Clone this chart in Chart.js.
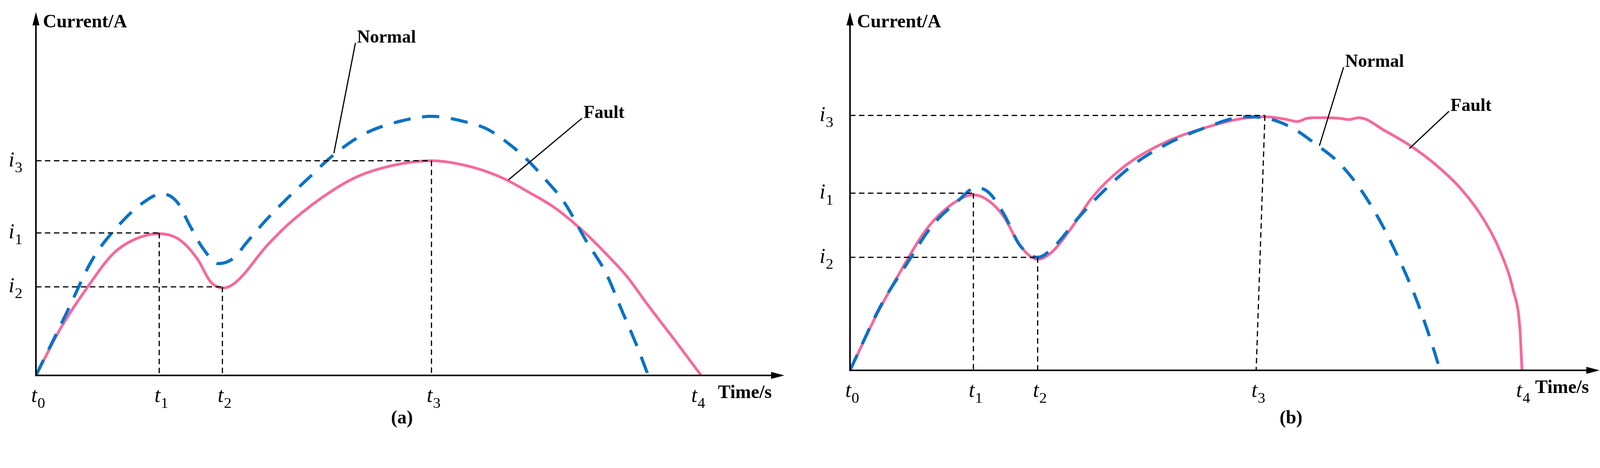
<!DOCTYPE html>
<html>
<head>
<meta charset="utf-8">
<script src="https://cdn.jsdelivr.net/npm/chart.js@4.4.1/dist/chart.umd.min.js"></script>
<style>
  body { margin: 0; background: #fff; width: 4358px; height: 1198px; position: relative; overflow: hidden; }
  .pane { position: absolute; top: 0; height: 1198px; }
</style>
</head>
<body>
<div class="pane" style="left:0;width:2090px"><canvas id="chartA"></canvas></div>
<div class="pane" style="left:2090px;width:2268px"><canvas id="chartB"></canvas></div>
<script>
// panel (a) curves, x = time units, y = current units
const faultAX = [0, 50, 100, 150, 190, 240, 280, 315, 340, 365, 390, 450, 500, 580, 630, 680, 730, 770, 850, 910, 960, 1010, 1060, 1110, 1150, 1190, 1240, 1295];
const faultAY = [0, 175, 315, 435, 485, 507, 485, 415, 335, 313, 335, 465, 555, 665, 715, 745, 763, 768, 745, 705, 655, 600, 525, 435, 355, 255, 135, 0];
const normalAX = [0, 60, 110, 160, 210, 245, 275, 300, 325, 355, 385, 410, 450, 490, 530, 580, 640, 710, 770, 830, 880, 930, 960, 990, 1030, 1070, 1110, 1140, 1170, 1192];
const normalAY = [0, 225, 415, 535, 620, 650, 620, 535, 455, 400, 420, 475, 560, 635, 705, 790, 865, 910, 927, 910, 880, 815, 765, 705, 615, 485, 365, 235, 105, 0];
// panel (b) curves
const faultBX = [0, 50, 100, 150, 200, 240, 270, 300, 330, 365, 390, 430, 470, 530, 610, 690, 760, 810, 850, 870, 890, 910, 950, 970, 990, 1040, 1090, 1140, 1190, 1230, 1265, 1290, 1303, 1307];
const faultBY = [0, 195, 365, 515, 605, 637, 615, 555, 455, 403, 425, 515, 625, 735, 825, 880, 913, 920, 910, 903, 915, 917, 915, 910, 917, 870, 815, 745, 655, 555, 430, 290, 150, 0];
const normalBX = [0, 60, 110, 160, 210, 245, 270, 300, 330, 365, 400, 440, 490, 550, 610, 690, 770, 810, 860, 910, 950, 990, 1030, 1070, 1100, 1125, 1148];
const normalBY = [0, 235, 385, 525, 615, 663, 645, 565, 455, 410, 455, 545, 645, 745, 815, 880, 920, 915, 880, 815, 755, 665, 545, 395, 265, 135, 0];

const tickNames = ["t0", "t1", "t2", "t3", "t4"];
const tickA = [0, 240, 363, 770, 1285];
const tickB = [0, 240, 365, 790, 1305];
const levelNames = ["i3", "i1", "i2"];
const levelA = [768, 510, 317];
const levelB = [925, 643, 410];

const PINK = "#f7689b";
const BLUE = "#0a72c6";
const SERIF = "'Liberation Serif', 'DejaVu Serif', serif";

function pts(xs, ys) { return xs.map((x, i) => ({ x: x, y: ys[i] })); }

function subLabel(ctx, name, x, y, size) {
  ctx.font = "italic " + size + "px " + SERIF;
  ctx.textAlign = "left";
  ctx.textBaseline = "alphabetic";
  ctx.fillText(name[0], x, y);
  const w = ctx.measureText(name[0]).width;
  ctx.font = size * 0.72 + "px " + SERIF;
  ctx.fillText(name.slice(1), x + w + 1, y + size * 0.28);
}

function makePanel(id, cfg) {
  const deco = {
    id: "deco",
    afterDatasetsDraw(chart) {
      const ctx = chart.ctx;
      const xs = chart.scales.x, ys = chart.scales.y;
      const X = v => xs.getPixelForValue(v), Y = v => ys.getPixelForValue(v);
      const a = chart.chartArea;
      ctx.save();
      ctx.strokeStyle = "#000";
      ctx.fillStyle = "#000";
      // guide lines
      ctx.lineWidth = 3;
      ctx.setLineDash([14, 9]);
      cfg.guides.forEach(g => {
        ctx.beginPath();
        ctx.moveTo(X(0), Y(g.lv));
        ctx.lineTo(X(g.tx), Y(g.lv));
        ctx.stroke();
        ctx.beginPath();
        ctx.moveTo(X(g.tx), Y(g.lv));
        ctx.lineTo(X(g.bx), Y(0));
        ctx.stroke();
      });
      ctx.setLineDash([]);
      // axes
      ctx.lineWidth = 4;
      ctx.beginPath();
      ctx.moveTo(a.left, a.top + 10);
      ctx.lineTo(a.left, a.bottom);
      ctx.lineTo(a.right - 10, a.bottom);
      ctx.stroke();
      ctx.beginPath();
      ctx.moveTo(a.left, a.top); ctx.lineTo(a.left - 9, a.top + 34); ctx.lineTo(a.left + 9, a.top + 34); ctx.closePath();
      ctx.fill();
      ctx.beginPath();
      ctx.moveTo(a.right, a.bottom); ctx.lineTo(a.right - 34, a.bottom - 9); ctx.lineTo(a.right - 34, a.bottom + 9); ctx.closePath();
      ctx.fill();
      // leader lines
      ctx.lineWidth = 3;
      cfg.leaders.forEach(l => {
        ctx.beginPath();
        ctx.moveTo(X(l.x1), Y(l.y1));
        ctx.lineTo(X(l.x2), Y(l.y2));
        ctx.stroke();
        ctx.font = "bold 46px " + SERIF;
        ctx.textAlign = "left";
        ctx.textBaseline = "bottom";
        ctx.fillText(l.text, X(l.x1) + 4, Y(l.y1) + 10);
      });
      // titles
      ctx.font = "bold 48px " + SERIF;
      ctx.textBaseline = "middle";
      ctx.fillText("Current/A", a.left + 18, 58);
      ctx.fillText("Time/s", cfg.timeX, a.bottom + 46);
      ctx.textAlign = "center";
      ctx.fillText(cfg.caption, cfg.capX, 1072);
      // tick and level labels
      cfg.ticks.forEach((t, i) => subLabel(ctx, tickNames[i], X(t) - 12, a.bottom + 68, 54));
      cfg.levels.forEach((v, i) => subLabel(ctx, levelNames[i], cfg.levelX, Y(v) + 14, 54));
      ctx.restore();
    }
  };
  return new Chart(document.getElementById(id), {
    type: "scatter",
    data: {
      datasets: [
        { data: pts(cfg.nx, cfg.ny), showLine: true, borderColor: BLUE, borderWidth: 8, borderDash: [44, 30], pointRadius: 0, cubicInterpolationMode: "monotone" },
        { data: pts(cfg.fx, cfg.fy), showLine: true, borderColor: PINK, borderWidth: 7, pointRadius: 0, cubicInterpolationMode: "monotone" }
      ]
    },
    options: {
      responsive: true, maintainAspectRatio: false, animation: false,
      layout: { padding: cfg.pad },
      plugins: { legend: { display: false }, tooltip: { enabled: false } },
      scales: {
        x: { type: "linear", min: 0, max: cfg.xmax, display: false },
        y: { type: "linear", min: 0, max: 1300, display: false }
      }
    },
    plugins: [deco]
  });
}

makePanel("chartA", {
  fx: faultAX, fy: faultAY, nx: normalAX, ny: normalAY,
  ticks: tickA, levels: levelA, xmax: 1457,
  pad: { left: 92, right: 82, top: 31, bottom: 237 },
  guides: [
    { lv: levelA[0], tx: tickA[3], bx: tickA[3] },
    { lv: levelA[1], tx: tickA[1], bx: tickA[1] },
    { lv: levelA[2], tx: tickA[2], bx: tickA[2] }
  ],
  leaders: [
    { text: "Normal", x1: 622, y1: 1190, x2: 580, y2: 795 },
    { text: "Fault", x1: 1063, y1: 920, x2: 920, y2: 700 }
  ],
  timeX: 1838, caption: "(a)", capX: 1029, levelX: 22
});

makePanel("chartB", {
  fx: faultBX, fy: faultBY, nx: normalBX, ny: normalBY,
  ticks: tickB, levels: levelB, xmax: 1458,
  pad: { left: 86, right: 263, top: 31, bottom: 250 },
  guides: [
    { lv: levelB[0], tx: 807, bx: tickB[3] },
    { lv: levelB[1], tx: tickB[1], bx: tickB[1] },
    { lv: levelB[2], tx: tickB[2], bx: tickB[2] }
  ],
  leaders: [
    { text: "Normal", x1: 960, y1: 1100, x2: 913, y2: 815 },
    { text: "Fault", x1: 1165, y1: 940, x2: 1088, y2: 805 }
  ],
  timeX: 1840, caption: "(b)", capX: 1215, levelX: 8
});
</script>
</body>
</html>
